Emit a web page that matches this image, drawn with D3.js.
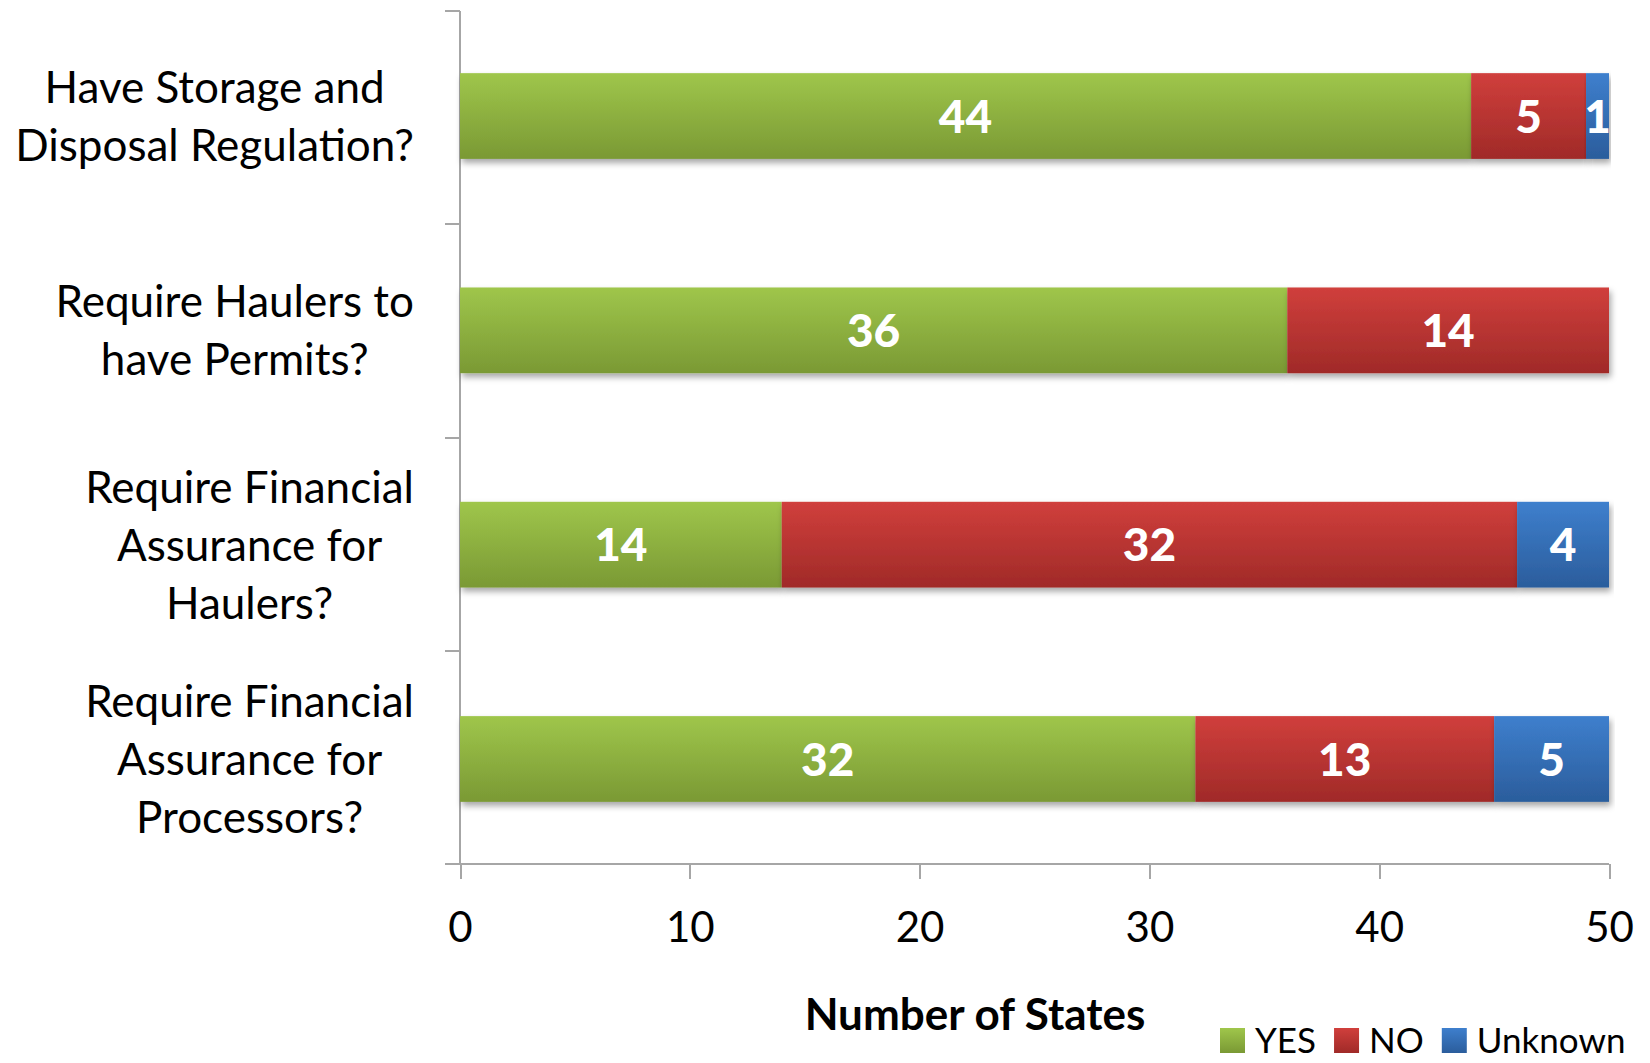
<!DOCTYPE html>
<html>
<head>
<meta charset="utf-8">
<title>Number of States</title>
<style>
  body { margin: 0; background: #fff; }
  svg text { font-family: Lato, "Open Sans", sans-serif; }
  .axis path, .axis line { stroke: #a6a6a6; stroke-width: 2; fill: none; shape-rendering: crispEdges; }
  .axis text { font-size: 42px; fill: #000; }
</style>
</head>
<body>
<svg id="chart" width="1650" height="1063"></svg>
<script src="https://cdnjs.cloudflare.com/ajax/libs/d3/7.8.5/d3.min.js"></script>
<script>
// data
var questions = [
  ["Have Storage and", "Disposal Regulation?"],
  ["Require Haulers to", "have Permits?"],
  ["Require Financial", "Assurance for", "Haulers?"],
  ["Require Financial", "Assurance for", "Processors?"]
];
var seriesNames = ["YES", "NO", "Unknown"];
var yesValues = [44, 36, 14, 32];
var noValues = [5, 14, 32, 13];
var unknownValues = [1, 0, 4, 5];
var xTicks = [0, 10, 20, 30, 40, 50];

var colors = {
  YES: ["#9fc64b", "#7a9934"],
  NO: ["#d03f3c", "#a02a28"],
  Unknown: ["#3e7fcd", "#2b5d9c"]
};

// size
var margin = { top: 11, right: 41, bottom: 199, left: 460 };
var width = 1650 - margin.left - margin.right;
var height = 1063 - margin.top - margin.bottom;

var svg = d3.select("#chart");
var defs = svg.append("defs");
seriesNames.forEach(function (s, i) {
  var g = defs.append("linearGradient").attr("id", "grad" + i)
    .attr("x1", 0).attr("y1", 0).attr("x2", 0).attr("y2", 1);
  g.append("stop").attr("offset", "0%").attr("stop-color", colors[s][0]);
  g.append("stop").attr("offset", "100%").attr("stop-color", colors[s][1]);
});
var shadow = defs.append("filter").attr("id", "shadow")
  .attr("x", "-5%").attr("y", "-20%").attr("width", "110%").attr("height", "150%");
shadow.append("feDropShadow").attr("dx", 2).attr("dy", 4).attr("stdDeviation", 3)
  .attr("flood-color", "#000").attr("flood-opacity", 0.35);

var rows = questions.map(function (q, i) {
  return { idx: i, YES: yesValues[i], NO: noValues[i], Unknown: unknownValues[i] };
});
var stacked = d3.stack().keys(seriesNames)(rows);

var x = d3.scaleLinear().domain([0, 50]).range([0, width]);
var y = d3.scaleBand().domain(d3.range(questions.length)).range([0, height]).paddingInner(0.6).paddingOuter(0.29);
var yEdges = d3.scaleLinear().domain([0, questions.length]).range([0, height]);

var focus = svg.append("g").attr("transform", "translate(" + margin.left + "," + margin.top + ")");

// axes
var xAxis = focus.append("g").attr("class", "axis")
  .attr("transform", "translate(0," + height + ")")
  .call(d3.axisBottom(x).tickValues(xTicks).tickSize(15).tickSizeOuter(0).tickPadding(33));
xAxis.select(".domain").attr("d", "M-15,0H" + width);

var yAxis = focus.append("g").attr("class", "axis");
yAxis.append("line").attr("x1", 0).attr("x2", 0).attr("y1", 0).attr("y2", height);
yAxis.selectAll(".ytick").data(d3.range(questions.length)).enter().append("line")
  .attr("class", "ytick").attr("x1", -15).attr("x2", 0)
  .attr("y1", function (d) { return yEdges(d); })
  .attr("y2", function (d) { return yEdges(d); });

// bars
var layers = focus.selectAll(".layer").data(stacked).enter().append("g")
  .attr("class", "layer").attr("fill", function (d, i) { return "url(#grad" + i + ")"; });

layers.selectAll("rect").data(function (d) { return d; }).enter().append("rect")
  .filter(function (d) { return d[1] > d[0]; })
  .attr("x", function (d) { return x(d[0]); })
  .attr("y", function (d) { return y(d.data.idx); })
  .attr("width", function (d) { return x(d[1]) - x(d[0]); })
  .attr("height", y.bandwidth())
  .attr("filter", "url(#shadow)");

layers.selectAll("text").data(function (d) { return d; }).enter().append("text")
  .filter(function (d) { return d[1] > d[0]; })
  .attr("x", function (d) { return (x(d[0]) + x(d[1])) / 2; })
  .attr("y", function (d) { return y(d.data.idx) + y.bandwidth() / 2; })
  .attr("text-anchor", "middle").attr("dy", "0.36em")
  .attr("fill", "#fff").style("font-size", "46px").style("font-weight", "900")
  .text(function (d) { return d[1] - d[0]; });

// category labels
var lineH = 58;
var labelRight = -46;
questions.forEach(function (lines, i) {
  var g = focus.append("g");
  var cy = y(i) + y.bandwidth() / 2;
  var t = g.selectAll("text").data(lines).enter().append("text")
    .style("font-size", "44px").attr("fill", "#000")
    .attr("text-anchor", "middle").attr("dy", "0.36em")
    .attr("y", function (d, j) { return cy + (j - (lines.length - 1) / 2) * lineH; })
    .text(function (d) { return d; });
  var maxW = d3.max(t.nodes(), function (n) { return n.getComputedTextLength(); });
  t.attr("x", labelRight - maxW / 2);
});

// axis title
svg.append("text").attr("x", 975).attr("y", 1030).attr("text-anchor", "middle")
  .style("font-size", "44px").style("font-weight", "bold").text("Number of States");

// legend
var legend = svg.append("g").attr("transform", "translate(1220,1028)");
var lx = 0;
seriesNames.forEach(function (s, i) {
  var item = legend.append("g").attr("transform", "translate(" + lx + ",0)");
  item.append("rect").attr("width", 25).attr("height", 25).attr("fill", "url(#grad" + i + ")");
  var txt = item.append("text").attr("x", 35).attr("y", 12.5).attr("dy", "0.36em")
    .style("font-size", "35px").text(s);
  lx += 35 + txt.node().getComputedTextLength() + 18;
});
</script>
</body>
</html>
